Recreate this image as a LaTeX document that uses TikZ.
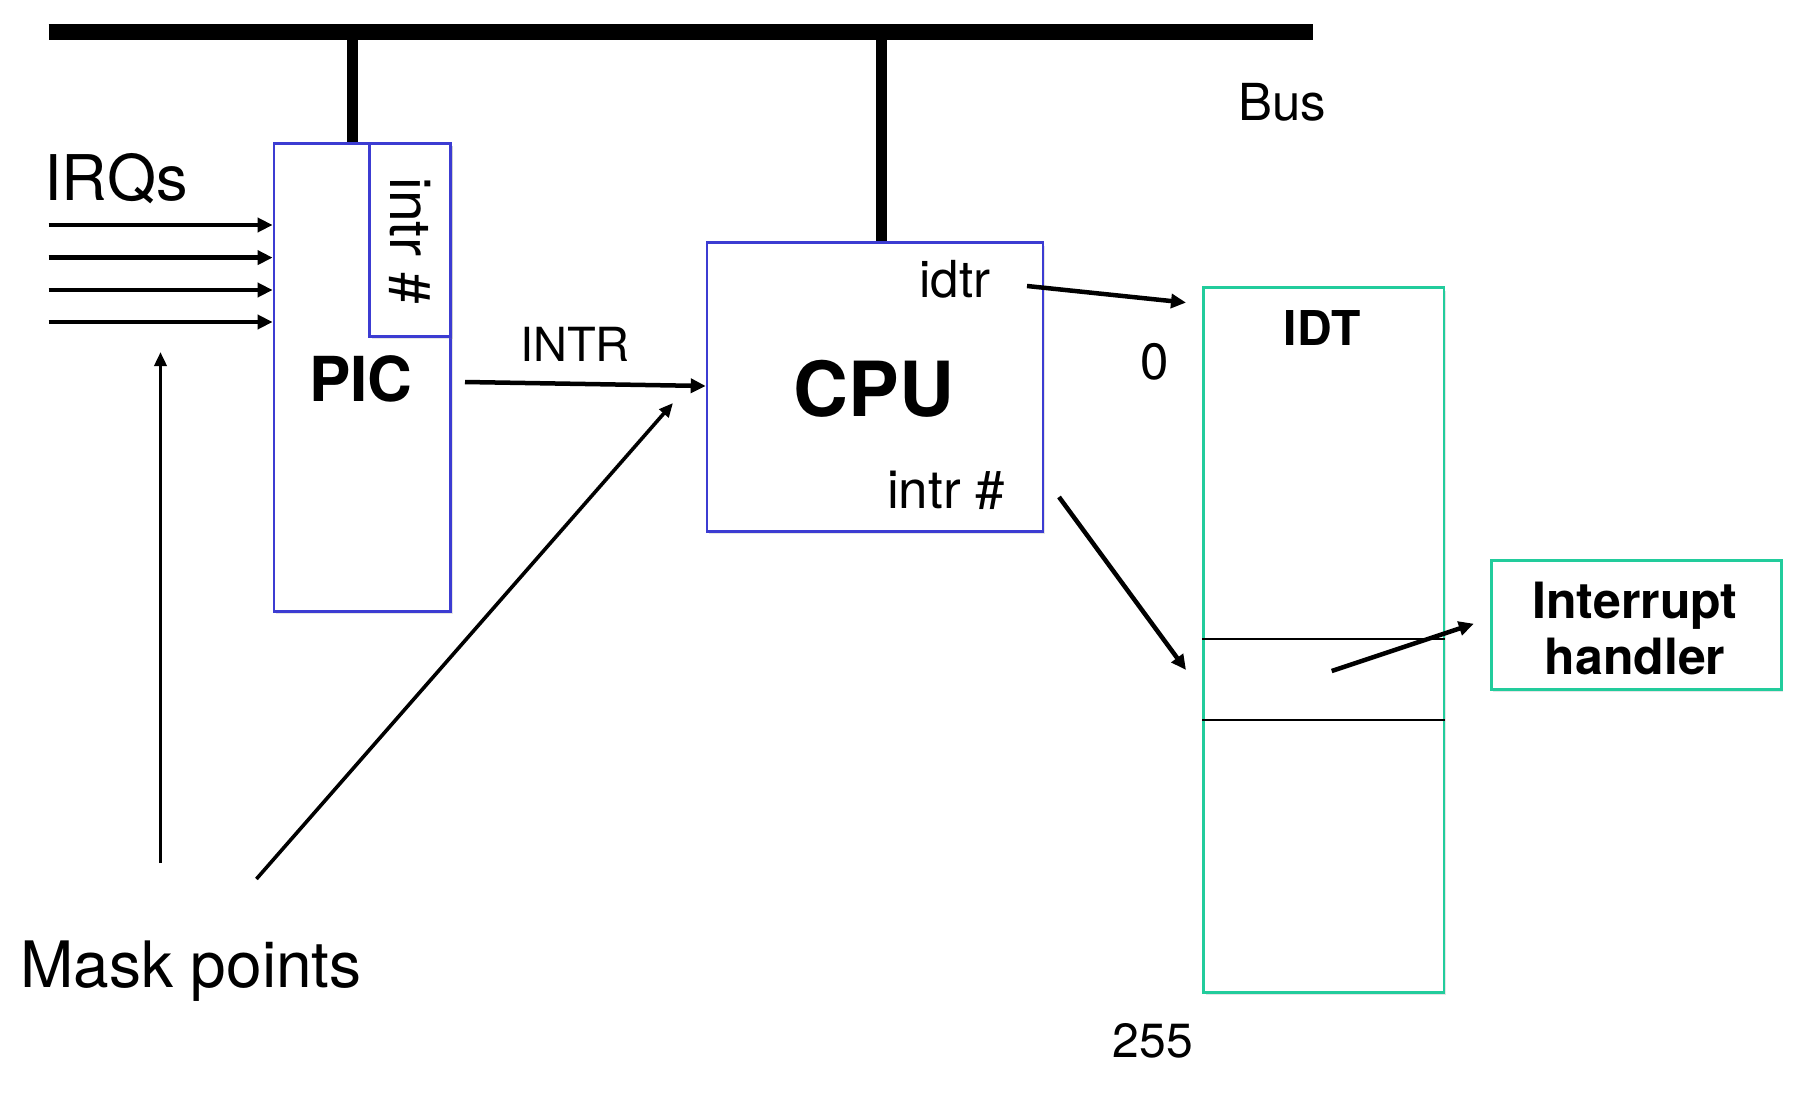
\documentclass[tikz,border=0pt]{standalone}
\usepackage{fontspec}
\setmainfont{TeX Gyre Heros}
\usetikzlibrary{arrows.meta,shadows}
\definecolor{boxblue}{HTML}{3C3CD2}
\definecolor{boxgreen}{HTML}{22CC9C}
\begin{document}
\begin{tikzpicture}[x=1pt,y=-1pt,
  bluebox/.style={draw=boxblue, line width=2.6pt, fill=white, inner sep=0pt, anchor=north west,
     drop shadow={shadow xshift=2pt, shadow yshift=-3pt, opacity=0.2}},
  greenbox/.style={draw=boxgreen, line width=2.8pt, fill=white, inner sep=0pt, anchor=north west,
     drop shadow={shadow xshift=2pt, shadow yshift=-3pt, opacity=0.2}},
  arr/.style={-{Triangle[length=15pt,width=14pt]}, line width=4.5pt},
  thinarr/.style={-{Triangle[length=14pt,width=12pt]}, line width=3.6pt},
  lbl/.style={inner sep=0pt, anchor=base},
  fs/.style={font=\fontsize{#1}{#1}\selectfont},
  bfs/.style={font=\fontsize{#1}{#1}\selectfont\bfseries}]
\useasboundingbox (0,0) rectangle (1811,1099);
\fill[white] (0,0) rectangle (1811,1099);

% bus
\coordinate (busL) at (48.5,32);
\coordinate (busR) at (1313,32);
\draw[line width=16pt] (busL) -- (busR);
\node[lbl, fs=51] (bus) at (1282,121) {Bus};

% PIC
\node[bluebox, minimum width=176.7pt, minimum height=468pt] (pic) at (272.6,142) {};
\node[bluebox, minimum width=80.9pt, minimum height=193pt] (picreg) at (368.4,142) {};
\node[inner sep=0pt, rotate=-90, fs=57] (picregtxt) at (410,241) {intr \#};
\node[lbl, bfs=62] (pictxt) at (361,401) {PIC};
\coordinate (picstub) at (352,32);
\draw[line width=11pt] (picstub) -- (picstub |- pic.north);

% IRQs
\node[lbl, fs=63, anchor=base west] (irqs) at (44,201) {IRQs};
\foreach \y [count=\i] in {225,257.6,290,322}{
  \coordinate (irq\i) at (48.5,\y);
  \draw[arr] (irq\i) -- (irq\i -| pic.west);
}

% CPU
\node[bluebox, minimum width=336pt, minimum height=288.6pt] (cpu) at (705.7,241.4) {};
\node[lbl, bfs=76] (cputxt) at (874,416) {CPU};
\node[lbl, fs=51] (idtr) at (955,297) {idtr};
\node[lbl, fs=53] (cpuintr) at (946,508) {intr \#};
\coordinate (cpustub) at (881,32);
\draw[line width=11pt] (cpustub) -- (cpustub |- cpu.north);

% INTR
\coordinate (intrstart) at (465,382);
\coordinate (intrend) at (cpu.west |- 0,386);
\draw[arr] (intrstart) -- (intrend);
\node[lbl, fs=47] (intrlbl) at (575,361.5) {INTR};

% IDT
\node[greenbox, minimum width=240.2pt, minimum height=704.6pt] (idt) at (1202.4,286.4) {};
\node[lbl, bfs=48] (idttxt) at (1322,345) {IDT};
\draw[line width=2pt] (idt.west |- 0,638.7) coordinate (slotA) -- (idt.east |- 0,638.7);
\draw[line width=2pt] (idt.west |- 0,719.6) coordinate (slotB) -- (idt.east |- 0,719.6);
\node[lbl, fs=51] (zero) at (1155,379) {0};
\node[lbl, fs=48] (n255) at (1153,1057) {255};

% idtr & intr# arrows
\coordinate (idtrstart) at (1027,286);
\coordinate (idtrend) at (1186,302.6);
\draw[arr] (idtrstart) -- (idtrend);
\coordinate (intrnstart) at (1059,497);
\coordinate (intrnend) at (1186,670);
\draw[arr] (intrnstart) -- (intrnend);

% handler
\node[greenbox, minimum width=290pt, minimum height=129pt] (handler) at (1490,559) {};
\node[lbl, bfs=50] (h1) at (1635,618) {Interrupt};
\node[lbl, bfs=50] (h2) at (1635,674.5) {handler};
\coordinate (hstart) at (1331.7,671);
\coordinate (hend) at (1473.8,623.7);
\draw[arr] (hstart) -- (hend);

% mask points
\node[lbl, fs=64, anchor=base west] (mask) at (20,987.5) {Mask points};
\coordinate (m1s) at (160.5,863);
\coordinate (m1e) at (160.5,352);
\draw[thinarr] (m1s) -- (m1e);
\coordinate (m2s) at (256.4,879);
\coordinate (m2e) at (673,403);
\draw[thinarr] (m2s) -- (m2e);
\end{tikzpicture}
\end{document}
